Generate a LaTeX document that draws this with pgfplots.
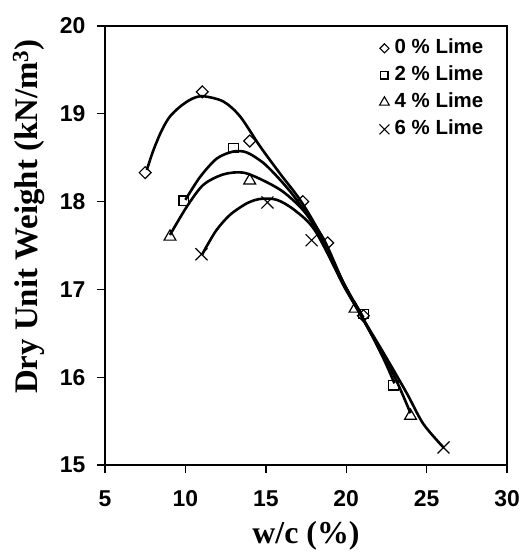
\documentclass[border=0pt]{standalone}
\usepackage{pgfplots}
\pgfplotsset{compat=1.18}
\usepackage{fontspec}
\setmainfont{Liberation Serif}
\newfontfamily\arial{Liberation Sans}
\begin{document}
\begin{tikzpicture}
\useasboundingbox (-105bp,-90bp) rectangle (419bp,465bp);
\begin{axis}[
  at={(0,0)}, anchor=south west,
  width=402bp, height=439bp, scale only axis,
  xmin=5, xmax=30, ymin=15, ymax=20,
  xtick={5,10,...,30}, ytick={15,16,...,20},
  tick align=outside, tick pos=left, major tick length=8bp,
  axis line style={line width=1.4bp},
  every tick/.style={line width=1.4bp, black},
  /pgf/number format/assume math mode=true,
  tick label style={font=\arial\bfseries\fontsize{23}{23}\selectfont},
  yticklabel style={xshift=-8bp},
  xticklabel style={yshift=-14bp},
  xlabel={\bfseries w/c (\%)},
  ylabel={\bfseries Dry Unit Weight (kN/m\textsuperscript{3})},
  every axis x label/.style={at={(axis description cs:0.5,0)}, anchor=base, yshift=-78bp, font=\fontsize{32}{32}\selectfont},
  every axis y label/.style={at={(axis description cs:-0.19,0.566)}, rotate=90, anchor=center, font=\fontsize{33}{33}\selectfont},
  legend style={draw=none, fill=none, at={(0.662,0.978)}, anchor=north west,
    font=\arial\bfseries\fontsize{20.5}{20.5}\selectfont,
    nodes={text height=14bp, text depth=3bp, inner ysep=2bp, inner xsep=3bp}, row sep=6bp},
  legend cell align=left,
  legend image code/.code={\path (0cm,0cm) (0.6cm,0cm); \draw[#1] plot coordinates {(0.35cm,0cm)};},
  clip=false,
]
\addlegendimage{only marks, mark=square, mark size=3.2bp, mark options={rotate=45, line width=1.1bp}}
\addlegendimage{only marks, mark=square, mark size=3.6bp, mark options={line width=1.1bp}}
\addlegendimage{only marks, mark=triangle, mark size=5.6bp, mark options={line width=1.1bp}}
\addlegendimage{only marks, mark=x, mark size=7bp, mark options={line width=1.1bp}}
\legend{0 \% Lime, 2 \% Lime, 4 \% Lime, 6 \% Lime}
% fitted curves
\addplot[black, line width=2.6bp, smooth, forget plot] coordinates {
 (7.6,18.36) (8.0,18.58) (8.5,18.80) (9.0,18.96) (9.66,19.08) (10.4,19.17) (11.11,19.20) (12.36,19.14)
 (13.40,18.97) (14.64,18.63) (15.88,18.32) (17.13,18.02) (18.3,17.66) (19.82,17.08) (21.07,16.68)};
\addplot[black, line width=2.6bp, smooth, forget plot] coordinates {
 (10.0,18.02) (10.91,18.28) (11.95,18.49) (12.98,18.57) (13.81,18.56) (14.85,18.44)
 (15.88,18.25) (16.92,18.02) (18.17,17.67) (19.82,17.05) (21.07,16.66) (22.3,16.22) (23.0,15.93)};
\addplot[black, line width=2.6bp, smooth, forget plot] coordinates {
 (9.04,17.62) (10.08,17.94) (11.11,18.19) (12.36,18.31) (13.60,18.33) (14.85,18.24)
 (16.09,18.11) (17.33,17.90) (18.58,17.58) (19.82,17.08) (21.07,16.65) (22.31,16.25) (23.2,15.93) (24.0,15.59)};
\addplot[black, line width=2.6bp, smooth, forget plot] coordinates {
 (11.05,17.40) (11.32,17.49) (11.95,17.68) (12.78,17.85) (13.82,17.98) (14.65,18.03)
 (15.69,18.02) (16.81,17.90) (18.06,17.67) (19.82,17.06) (21.07,16.66) (22.31,16.28)
 (23.76,15.82) (24.79,15.47) (26.05,15.2)};
% data points
\addplot[only marks, forget plot, mark=square, mark size=4.2bp, mark options={rotate=45, line width=1.2bp, fill=white}] coordinates {
 (7.5,18.33) (11.05,19.25) (14.0,18.69) (17.3,18.0) (18.85,17.53) (21.07,16.7)};
\addplot[only marks, forget plot, mark=square, mark size=4.8bp, mark options={line width=1.2bp}] coordinates {
 (9.9,18.01) (12.98,18.61) (21.07,16.72) (22.95,15.91)};
\addplot[only marks, forget plot, mark=triangle, mark size=6.8bp, mark options={line width=1.2bp}] coordinates {
 (9.04,17.6) (14.0,18.24) (20.55,16.78) (24.0,15.56)};
\addplot[only marks, forget plot, mark=x, mark size=8.5bp, mark options={line width=1.2bp}] coordinates {
 (11.0,17.4) (15.1,17.99) (17.85,17.56) (26.05,15.2)};
\end{axis}
\end{tikzpicture}
\end{document}
